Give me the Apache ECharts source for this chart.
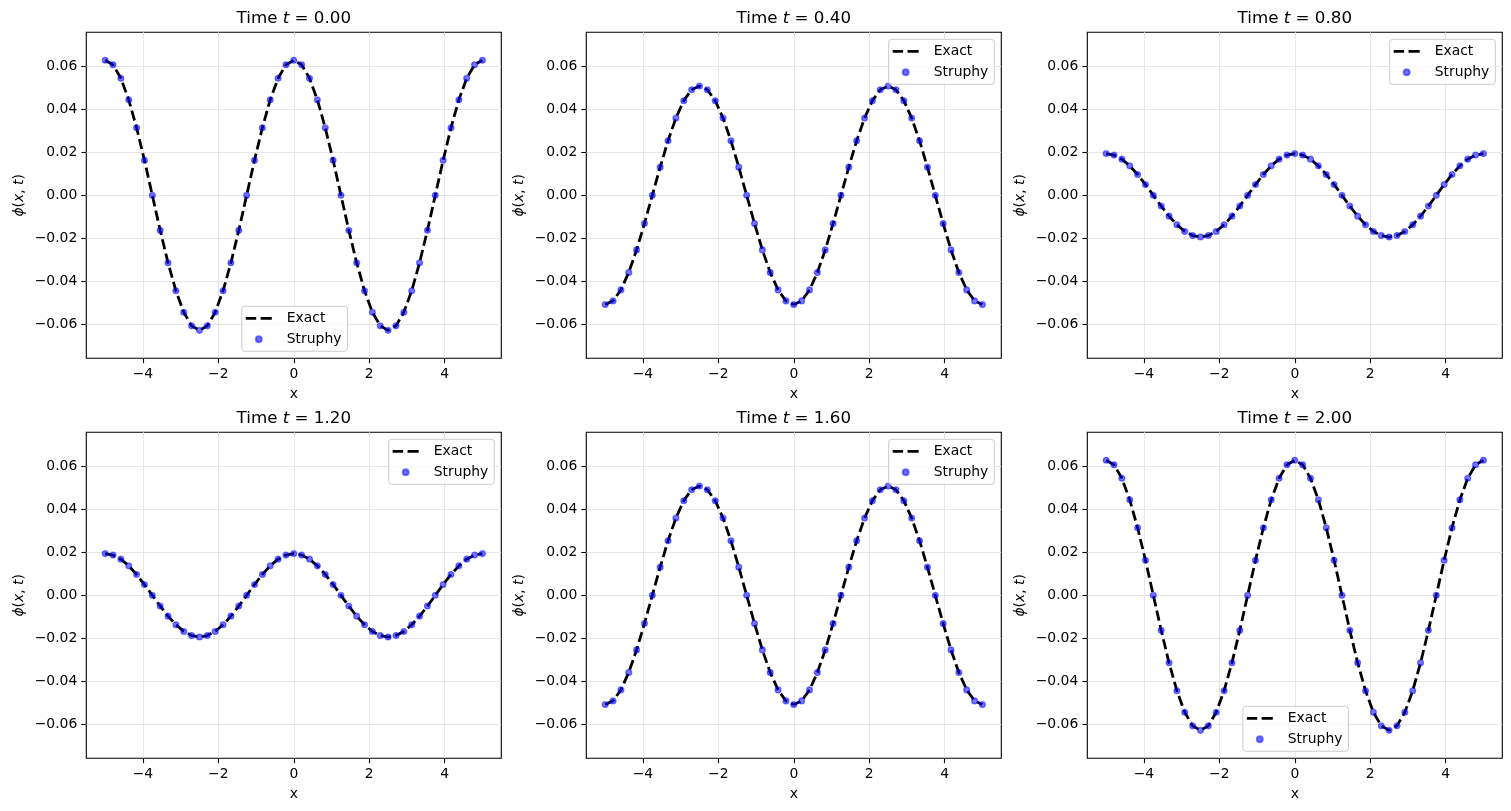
<!DOCTYPE html>
<html>
<head>
<meta charset="utf-8">
<title>phi(x, t)</title>
<script src="https://cdn.jsdelivr.net/npm/echarts@6/dist/echarts.min.js"></script>
<style>
    html, body { margin: 0; padding: 0; background: #fff; }
    #chart { width: 1511px; height: 811px; }
</style>
</head>
<body>
<div id="chart"></div>
<script>
// grid points, x from -5 to 5
const xGrid = [
    -5.0000, -4.7917, -4.5833, -4.3750, -4.1667, -3.9583, -3.7500, -3.5417, -3.3333, -3.1250,
    -2.9167, -2.7083, -2.5000, -2.2917, -2.0833, -1.8750, -1.6667, -1.4583, -1.2500, -1.0417,
    -0.8333, -0.6250, -0.4167, -0.2083, 0.0000, 0.2083, 0.4167, 0.6250, 0.8333, 1.0417,
    1.2500, 1.4583, 1.6667, 1.8750, 2.0833, 2.2917, 2.5000, 2.7083, 2.9167, 3.1250,
    3.3333, 3.5417, 3.7500, 3.9583, 4.1667, 4.3750, 4.5833, 4.7917, 5.0000
];

// phi(x, t)
const phiT000 = [
    0.0628, 0.0607, 0.0544, 0.0444, 0.0314, 0.0163, 0.0000, -0.0163, -0.0314, -0.0444, -0.0544, -0.0607,
    -0.0628, -0.0607, -0.0544, -0.0444, -0.0314, -0.0163, 0.0000, 0.0163, 0.0314, 0.0444, 0.0544, 0.0607,
    0.0628, 0.0607, 0.0544, 0.0444, 0.0314, 0.0163, 0.0000, -0.0163, -0.0314, -0.0444, -0.0544, -0.0607,
    -0.0628, -0.0607, -0.0544, -0.0444, -0.0314, -0.0163, 0.0000, 0.0163, 0.0314, 0.0444, 0.0544, 0.0607,
    0.0628
];
const phiT040 = [
    -0.0508, -0.0491, -0.0440, -0.0359, -0.0254, -0.0131, 0.0000, 0.0131, 0.0254, 0.0359, 0.0440, 0.0491,
    0.0508, 0.0491, 0.0440, 0.0359, 0.0254, 0.0131, 0.0000, -0.0131, -0.0254, -0.0359, -0.0440, -0.0491,
    -0.0508, -0.0491, -0.0440, -0.0359, -0.0254, -0.0131, 0.0000, 0.0131, 0.0254, 0.0359, 0.0440, 0.0491,
    0.0508, 0.0491, 0.0440, 0.0359, 0.0254, 0.0131, 0.0000, -0.0131, -0.0254, -0.0359, -0.0440, -0.0491,
    -0.0508
];
const phiT080 = [
    0.0194, 0.0187, 0.0168, 0.0137, 0.0097, 0.0050, 0.0000, -0.0050, -0.0097, -0.0137, -0.0168, -0.0187,
    -0.0194, -0.0187, -0.0168, -0.0137, -0.0097, -0.0050, 0.0000, 0.0050, 0.0097, 0.0137, 0.0168, 0.0187,
    0.0194, 0.0187, 0.0168, 0.0137, 0.0097, 0.0050, 0.0000, -0.0050, -0.0097, -0.0137, -0.0168, -0.0187,
    -0.0194, -0.0187, -0.0168, -0.0137, -0.0097, -0.0050, 0.0000, 0.0050, 0.0097, 0.0137, 0.0168, 0.0187,
    0.0194
];
const phiT120 = [
    0.0194, 0.0187, 0.0168, 0.0137, 0.0097, 0.0050, 0.0000, -0.0050, -0.0097, -0.0137, -0.0168, -0.0187,
    -0.0194, -0.0187, -0.0168, -0.0137, -0.0097, -0.0050, 0.0000, 0.0050, 0.0097, 0.0137, 0.0168, 0.0187,
    0.0194, 0.0187, 0.0168, 0.0137, 0.0097, 0.0050, 0.0000, -0.0050, -0.0097, -0.0137, -0.0168, -0.0187,
    -0.0194, -0.0187, -0.0168, -0.0137, -0.0097, -0.0050, 0.0000, 0.0050, 0.0097, 0.0137, 0.0168, 0.0187,
    0.0194
];
const phiT160 = [
    -0.0508, -0.0491, -0.0440, -0.0359, -0.0254, -0.0131, 0.0000, 0.0131, 0.0254, 0.0359, 0.0440, 0.0491,
    0.0508, 0.0491, 0.0440, 0.0359, 0.0254, 0.0131, 0.0000, -0.0131, -0.0254, -0.0359, -0.0440, -0.0491,
    -0.0508, -0.0491, -0.0440, -0.0359, -0.0254, -0.0131, 0.0000, 0.0131, 0.0254, 0.0359, 0.0440, 0.0491,
    0.0508, 0.0491, 0.0440, 0.0359, 0.0254, 0.0131, 0.0000, -0.0131, -0.0254, -0.0359, -0.0440, -0.0491,
    -0.0508
];
const phiT200 = [
    0.0628, 0.0607, 0.0544, 0.0444, 0.0314, 0.0163, 0.0000, -0.0163, -0.0314, -0.0444, -0.0544, -0.0607,
    -0.0628, -0.0607, -0.0544, -0.0444, -0.0314, -0.0163, 0.0000, 0.0163, 0.0314, 0.0444, 0.0544, 0.0607,
    0.0628, 0.0607, 0.0544, 0.0444, 0.0314, 0.0163, 0.0000, -0.0163, -0.0314, -0.0444, -0.0544, -0.0607,
    -0.0628, -0.0607, -0.0544, -0.0444, -0.0314, -0.0163, 0.0000, 0.0163, 0.0314, 0.0444, 0.0544, 0.0607,
    0.0628
];

const timeLabels = ['0.00', '0.40', '0.80', '1.20', '1.60', '2.00'];
const exactSeries = [phiT000, phiT040, phiT080, phiT120, phiT160, phiT200];
const struphySeries = [phiT000, phiT040, phiT080, phiT120, phiT160, phiT200];
const xTicks = [-4, -2, 0, 2, 4];
const yTicks = [-0.06, -0.04, -0.02, 0, 0.02, 0.04, 0.06];

// layout (px)
const FONT = 'DejaVu Sans';
const gridLeft = [86.3, 586.3, 1087.3];
const gridTop = [32.3, 432.3];
const gridW = 415;
const gridH = 326;
// legend: 'bottom' = lower center, 'top' = upper right
const legendLoc = ['bottom', 'top', 'top', 'top', 'top', 'bottom'];

const minus = (s) => s.replace('-', '\u2212');

const chart = echarts.init(document.getElementById('chart'));

const grids = [];
const xAxes = [];
const yAxes = [];
const series = [];
const legends = [];
const graphics = [];

for (let i = 0; i < 6; i++) {
    const col = i % 3;
    const row = Math.floor(i / 3);
    const left = gridLeft[col];
    const top = gridTop[row];

    grids.push({
        left: left,
        top: top,
        width: gridW,
        height: gridH,
        show: true,
        borderColor: '#000',
        borderWidth: 1.1,
        backgroundColor: '#fff',
    });

    xAxes.push({
        gridIndex: i,
        type: 'value',
        min: -5.5,
        max: 5.5,
        name: 'x',
        nameLocation: 'middle',
        nameGap: 29,
        nameTextStyle: { color: '#000', fontSize: 13.9, fontFamily: FONT },
        axisLine: { show: false, onZero: false },
        axisTick: { show: true, length: 4.9, customValues: xTicks, lineStyle: { color: '#000', width: 1.1 } },
        axisLabel: {
            customValues: xTicks,
            margin: 9,
            color: '#000',
            fontSize: 13.9,
            fontFamily: FONT,
            formatter: (v) => minus(String(v)),
        },
        splitLine: { show: true, lineStyle: { color: '#e6e6e6', width: 1 } },
    });

    yAxes.push({
        gridIndex: i,
        type: 'value',
        min: -0.0758,
        max: 0.0758,
        name: '{i|ϕ}({i|x}, {i|t})',
        nameLocation: 'middle',
        nameRotate: 90,
        nameGap: 60,
        nameTextStyle: {
            color: '#000',
            fontSize: 13.9,
            fontFamily: FONT,
            rich: { i: { fontStyle: 'italic', fontSize: 13.9, fontFamily: FONT, color: '#000' } },
        },
        axisLine: { show: false, onZero: false },
        axisTick: { show: true, length: 4.9, customValues: yTicks, lineStyle: { color: '#000', width: 1.1 } },
        axisLabel: {
            customValues: yTicks,
            margin: 9,
            color: '#000',
            fontSize: 13.9,
            fontFamily: FONT,
            formatter: (v) => minus(v.toFixed(2)).replace('\u22120.00', '0.00'),
        },
        splitLine: { show: true, lineStyle: { color: '#e6e6e6', width: 1 } },
    });

    series.push({
        name: 'Exact',
        type: 'line',
        xAxisIndex: i,
        yAxisIndex: i,
        data: xGrid.map((x, k) => [x, exactSeries[i][k]]),
        showSymbol: false,
        symbol: 'none',
        smooth: false,
        lineStyle: { color: '#000', width: 2.8, type: [10.3, 4.4] },
        itemStyle: { color: '#000' },
        z: 2,
        animation: false,
    });
    series.push({
        name: 'Struphy',
        type: 'scatter',
        xAxisIndex: i,
        yAxisIndex: i,
        data: xGrid.map((x, k) => [x, struphySeries[i][k]]),
        symbol: 'circle',
        symbolSize: 5.8,
        itemStyle: { color: 'rgba(0,0,255,0.68)', borderColor: 'rgba(0,0,255,0.6)', borderWidth: 1.3 },
        z: 3,
        animation: false,
    });

    const leg = {
        orient: 'vertical',
        padding: [4, 6, 4, 4],
        itemGap: 5,
        itemWidth: 26,
        itemHeight: 6,
        backgroundColor: 'rgba(255,255,255,0.8)',
        borderColor: '#cccccc',
        borderWidth: 1,
        borderRadius: 3,
        selectedMode: false,
        textStyle: { color: '#000', fontSize: 13.9, fontFamily: FONT, lineHeight: 16, padding: [0, 0, 0, 10] },
        data: [
            { name: 'Exact', icon: 'path://M0,0H10.3V2.8H0Z M14.7,0H25.7V2.8H14.7Z', itemStyle: { color: '#000' } },
            { name: 'Struphy', icon: 'circle', itemStyle: { color: 'rgba(0,0,255,0.68)' } },
        ],
    };
    if (legendLoc[i] === 'top') {
        leg.right = 1511 - (left + gridW) + 7;
        leg.top = top + 7;
    } else {
        leg.left = left + gridW / 2 - 52;
        leg.top = top + gridH - 7 - 45;
    }
    legends.push(leg);

    // title above each panel
    graphics.push({
        type: 'text',
        x: left + gridW / 2,
        y: top - 14,
        style: {
            text: 'Time {i|t} = ' + timeLabels[i],
            align: 'center',
            verticalAlign: 'middle',
            fill: '#000',
            font: '16.7px "DejaVu Sans"',
            rich: { i: { fontStyle: 'italic', fontSize: 16.7, fontFamily: FONT, fill: '#000' } },
        },
    });
}

chart.setOption({
    animation: false,
    backgroundColor: '#fff',
    grid: grids,
    xAxis: xAxes,
    yAxis: yAxes,
    legend: legends,
    series: series,
    graphic: graphics,
});
</script>
</body>
</html>
